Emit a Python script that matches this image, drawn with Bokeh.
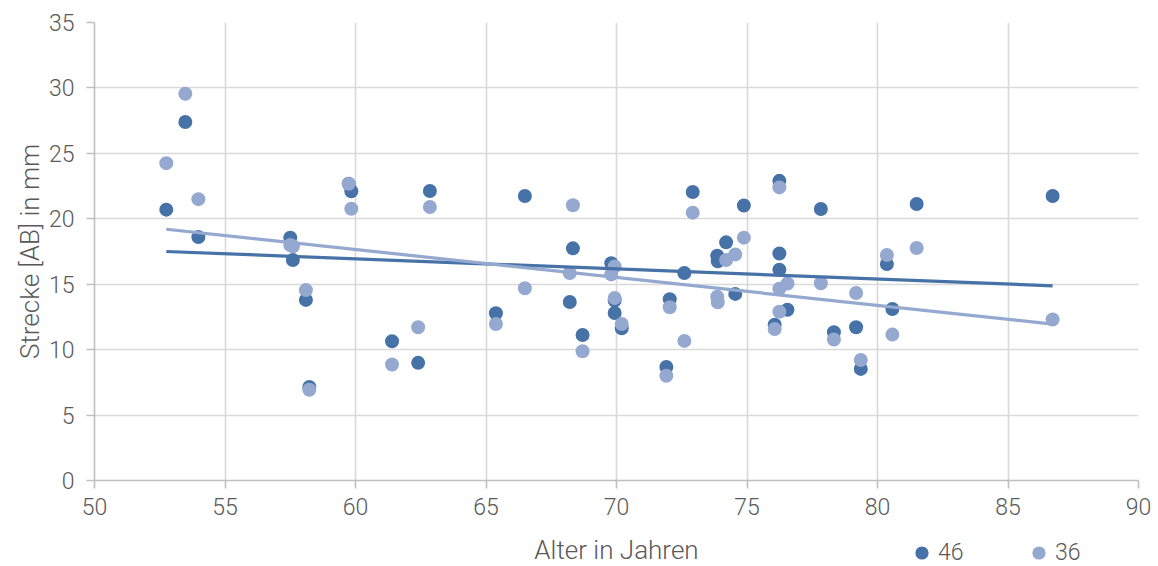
from bokeh.plotting import figure
from bokeh.layouts import column
from bokeh.models import FixedTicker, Legend, LegendItem, ColumnDataSource, Label
from bokeh.embed import file_html
from bokeh.resources import INLINE

# ---- data ----
age = [52.75, 53.48, 53.98, 57.50, 57.60, 58.10, 58.23, 59.74, 59.84, 61.40,
       62.40, 62.85, 65.38, 66.49, 68.21, 68.33, 68.70, 69.80, 69.93, 69.93,
       70.20, 71.91, 72.04, 72.60, 72.92, 73.86, 73.88, 74.20, 74.55, 74.88,
       76.06, 76.24, 76.24, 76.24, 76.55, 77.83, 78.33, 79.18, 79.36, 80.36,
       80.57, 81.50, 86.71]
s46 = [20.7, 27.4, 18.6, 18.55, 16.85, 13.8, 7.15, 22.68, 22.1, 10.64,
       8.99, 22.12, 12.78, 21.74, 13.64, 17.74, 11.12, 16.6, 13.75, 12.8,
       11.63, 8.68, 13.85, 15.86, 22.05, 17.18, 16.75, 18.2, 14.26, 21.02,
       11.91, 22.9, 17.35, 16.1, 13.05, 20.75, 11.33, 11.71, 8.53, 16.55,
       13.11, 21.13, 21.74]
s36 = [24.25, 29.55, 21.5, 18.0, 17.9, 14.55, 6.93, 22.68, 20.77, 8.86,
       11.71, 20.9, 11.96, 14.69, 15.86, 21.03, 9.88, 15.75, 16.35, 13.95,
       11.96, 8.0, 13.24, 10.67, 20.47, 14.05, 13.62, 16.85, 17.28, 18.56,
       11.58, 22.4, 14.65, 12.9, 15.05, 15.07, 10.77, 14.33, 9.21, 17.23,
       11.15, 17.77, 12.3]
trend_x = [52.75, 86.71]
trend_46 = [17.5, 14.88]
trend_36 = [19.2, 11.95]
x_ticks = [50, 55, 60, 65, 70, 75, 80, 85, 90]
y_ticks = [0, 5, 10, 15, 20, 25, 30, 35]
series_names = ["46", "36"]
x_title = "Alter in Jahren"
y_title = "Strecke [AB] in mm"

C46 = "#4672A8"
C36 = "#94A8D0"
FONT = "Roboto Light"
TXT = "#595959"

p = figure(width=1158, height=528, x_range=(50, 90), y_range=(0, 35),
           output_backend="svg", toolbar_location=None,
           min_border_left=94, min_border_right=20, min_border_top=22,
           min_border_bottom=48)
p.outline_line_color = None
p.background_fill_color = "white"
p.border_fill_color = "white"

for ax in (p.xaxis[0], p.yaxis[0]):
    ax.axis_line_color = "#bfbfbf"
    ax.axis_line_width = 1.6
    ax.major_tick_line_color = "#bfbfbf"
    ax.major_tick_line_width = 1.6
    ax.major_tick_out = 8
    ax.major_tick_in = 0
    ax.minor_tick_line_color = None
    ax.major_label_text_font = FONT
    ax.major_label_text_font_size = "23px"
    ax.major_label_text_color = TXT
    ax.axis_label_text_font = FONT
    ax.axis_label_text_font_size = "26px"
    ax.axis_label_text_font_style = "normal"
    ax.axis_label_text_color = TXT

p.xaxis.ticker = FixedTicker(ticks=x_ticks)
p.yaxis.ticker = FixedTicker(ticks=y_ticks)
p.yaxis.axis_label = y_title
p.xaxis.major_label_standoff = 9
p.yaxis.major_label_standoff = 12
p.yaxis.axis_label_standoff = 1

p.xgrid.ticker = FixedTicker(ticks=x_ticks)
p.ygrid.ticker = FixedTicker(ticks=y_ticks)
for g in (p.xgrid[0], p.ygrid[0]):
    g.grid_line_color = "#d9d9d9"
    g.grid_line_width = 1.6

src = ColumnDataSource(dict(age=age, s46=s46, s36=s36))
p.scatter("age", "s46", source=src, size=14, fill_color=C46, line_color=None)
p.scatter("age", "s36", source=src, size=14, fill_color=C36, line_color=None)
p.line(trend_x, trend_46, line_color=C46, line_width=3.2)
p.line(trend_x, trend_36, line_color=C36, line_width=3.2)

# bottom strip: x-axis title and legend share one row, as in the reference
b = figure(width=1158, height=38, x_range=(50, 90), y_range=(0, 1),
           output_backend="svg", toolbar_location=None,
           min_border_left=94, min_border_right=20, min_border_top=0,
           min_border_bottom=0)
b.axis.visible = False
b.grid.visible = False
b.outline_line_color = None
b.background_fill_color = "white"
b.border_fill_color = "white"

b.add_layout(Label(x=70, y=17, y_units="screen", text=x_title,
                   text_font=FONT, text_font_size="26px", text_color=TXT,
                   text_align="center", text_baseline="middle"))

# legend entries use the same series (hidden here, shown in the main plot)
k46 = b.scatter("age", "s46", source=src, size=14, fill_color=C46,
                line_color=None, visible=False)
k36 = b.scatter("age", "s36", source=src, size=14, fill_color=C36,
                line_color=None, visible=False)

legend = Legend(items=[LegendItem(label=series_names[0], renderers=[k46]),
                       LegendItem(label=series_names[1], renderers=[k36])],
                orientation="horizontal", location=(811, -3),
                glyph_width=33, glyph_height=33, label_standoff=0,
                label_width=40, spacing=44, padding=0, margin=0,
                border_line_color=None, background_fill_alpha=0,
                inactive_fill_alpha=0, click_policy="none",
                label_text_font=FONT, label_text_font_size="23px",
                label_text_color=TXT)
b.add_layout(legend, "center")

layout = column(p, b, spacing=0)
open("out.html", "w").write(file_html(layout, INLINE))
